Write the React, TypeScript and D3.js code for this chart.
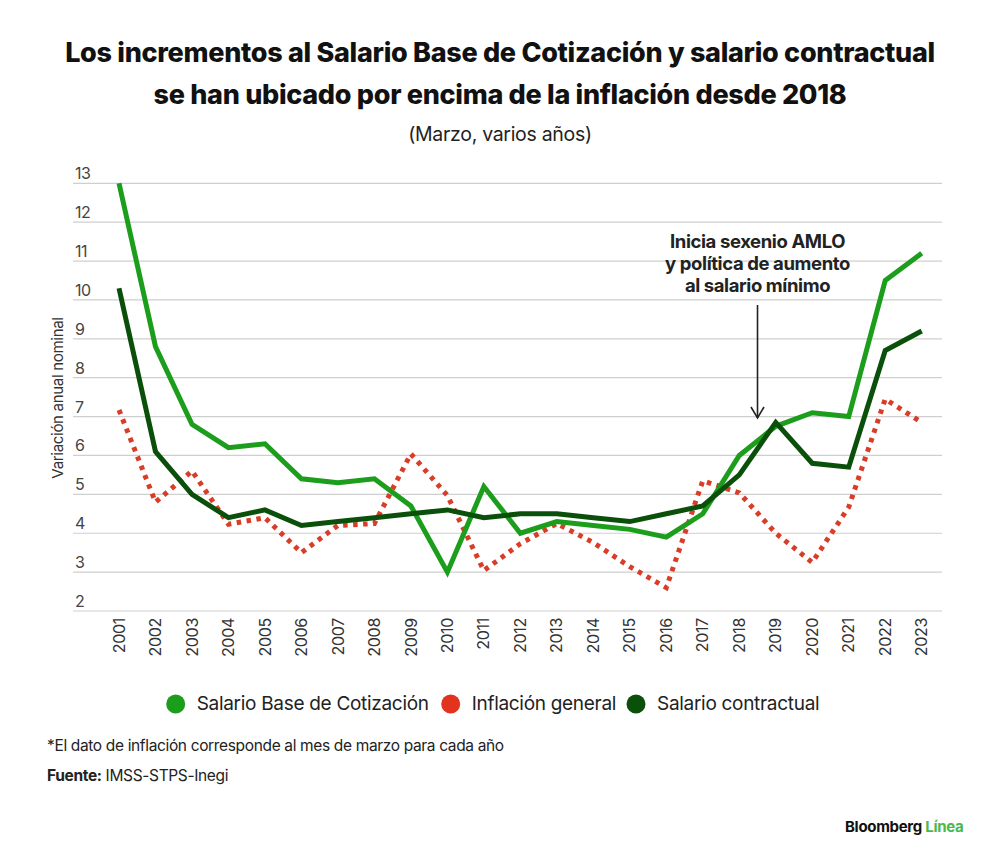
import React from "react";
import * as d3 from "d3";

const years = [2001, 2002, 2003, 2004, 2005, 2006, 2007, 2008, 2009, 2010, 2011, 2012, 2013, 2014, 2015, 2016, 2017, 2018, 2019, 2020, 2021, 2022, 2023];
const salarioBase = [13.0, 8.8, 6.8, 6.2, 6.3, 5.4, 5.3, 5.4, 4.7, 3.0, 5.2, 4.0, 4.3, 4.2, 4.1, 3.9, 4.5, 6.0, 6.75, 7.1, 7.0, 10.5, 11.2];
const inflacion = [7.17, 4.8, 5.6, 4.23, 4.4, 3.5, 4.2, 4.25, 6.04, 4.97, 3.04, 3.73, 4.25, 3.76, 3.14, 2.6, 5.35, 5.04, 4.0, 3.25, 4.67, 7.45, 6.85];
const contractual = [10.3, 6.1, 5.0, 4.4, 4.6, 4.2, 4.3, 4.4, 4.5, 4.6, 4.4, 4.5, 4.5, 4.4, 4.3, 4.5, 4.7, 5.5, 6.85, 5.8, 5.7, 8.7, 9.2];
const yTicks = [2, 3, 4, 5, 6, 7, 8, 9, 10, 11, 12, 13];

const titleLines = [
  "Los incrementos al Salario Base de Cotización y salario contractual",
  "se han ubicado por encima de la inflación desde 2018",
];
const subtitle = "(Marzo, varios años)";
const yTitle = "Variación anual nominal";
const annotationLines = ["Inicia sexenio AMLO", "y política de aumento", "al salario mínimo"];
const annotationYear = 2018.5;
const legendItems = [
  { label: "Salario Base de Cotización", color: "#1c9e1c" },
  { label: "Inflación general", color: "#e2331f" },
  { label: "Salario contractual", color: "#0a4f0a" },
];
const footnote = "*El dato de inflación corresponde al mes de marzo para cada año";

const FONT = "Inter, 'Noto Sans', sans-serif";

export default function App() {
  const x = d3.scaleLinear().domain([2001, 2023]).range([119, 921.7]);
  const y = d3.scaleLinear().domain([2, 13]).range([611, 183.3]);

  const line = (vals: number[]) =>
    d3
      .line<number>()
      .x((_, i) => x(years[i]))
      .y((d) => y(d))(vals) || "";

  const legendX = [175.7, 450.7, 636];
  const ax = x(annotationYear);

  return (
    <div style={{ position: "absolute", left: 0, top: 0 }}>
      <svg width={1000} height={863} style={{ display: "block", background: "#fff" }} fontFamily={FONT}>
        {/* title */}
        {titleLines.map((t, i) => (
          <text
            key={t}
            x={500}
            y={62 + i * 41.5}
            textAnchor="middle"
            fontSize={27}
            fontWeight={800}
            letterSpacing={-0.3}
            fill="#111"
          >
            {t}
          </text>
        ))}
        <text x={500} y={141} textAnchor="middle" fontSize={19.5} fill="#222" letterSpacing={-0.3}>
          {subtitle}
        </text>

        {/* gridlines */}
        {yTicks.map((v) => (
          <g key={v}>
            <line x1={73} x2={942} y1={y(v)} y2={y(v)} stroke="#cfcfcf" strokeWidth={1.2} />
            <text x={75} y={y(v) - 4} fontSize={16} fill="#444" letterSpacing={-0.5}>
              {v}
            </text>
          </g>
        ))}

        {/* x labels */}
        {years.map((yr) => (
          <text
            key={yr}
            transform={`translate(${x(yr)},618) rotate(-90)`}
            textAnchor="end"
            dy="0.35em"
            fontSize={16}
            fill="#333"
            letterSpacing={-0.3}
          >
            {yr}
          </text>
        ))}

        {/* y title */}
        <text
          transform="translate(58,398) rotate(-90)"
          textAnchor="middle"
          dy="0.35em"
          fontSize={15}
          fill="#333"
          letterSpacing={-0.3}
        >
          {yTitle}
        </text>

        {/* lines */}
        <path
          d={line(inflacion)}
          fill="none"
          stroke="#d93d28"
          strokeWidth={5}
          strokeDasharray="4.5,5.5"
        />
        <path d={line(salarioBase)} fill="none" stroke="#1c9e1c" strokeWidth={5} />
        <path d={line(contractual)} fill="none" stroke="#0a4f0a" strokeWidth={5} />

        {/* annotation */}
        {annotationLines.map((t, i) => (
          <text
            key={t}
            x={ax}
            y={248 + i * 22}
            textAnchor="middle"
            fontSize={18.5}
            fontWeight={700}
            letterSpacing={-0.4}
            fill="#222"
          >
            {t}
          </text>
        ))}
        <line x1={ax} x2={ax} y1={305} y2={418} stroke="#222" strokeWidth={1.6} />
        <polyline
          points={`${ax - 6.5},407 ${ax},418 ${ax + 6.5},407`}
          fill="none"
          stroke="#222"
          strokeWidth={1.6}
        />

        {/* legend */}
        {legendItems.map((it, i) => (
          <g key={it.label}>
            <circle cx={legendX[i]} cy={704} r={9.5} fill={it.color} />
            <text x={legendX[i] + 21} y={710} fontSize={19} fill="#222" letterSpacing={-0.3}>
              {it.label}
            </text>
          </g>
        ))}

        {/* footnotes */}
        <text x={47} y={751} fontSize={15.5} fill="#222" letterSpacing={-0.35}>
          {footnote}
        </text>
        <text x={47} y={781} fontSize={15.5} fill="#222" letterSpacing={-0.35}>
          <tspan fontWeight={700}>Fuente:</tspan>
          <tspan> IMSS-STPS-Inegi</tspan>
        </text>

        {/* brand */}
        <text x={845} y={832} fontSize={15} fontWeight={700} letterSpacing={-0.3}>
          <tspan fill="#111">Bloomberg</tspan>
          <tspan fill="#4cb84c"> Línea</tspan>
        </text>
      </svg>
    </div>
  );
}
